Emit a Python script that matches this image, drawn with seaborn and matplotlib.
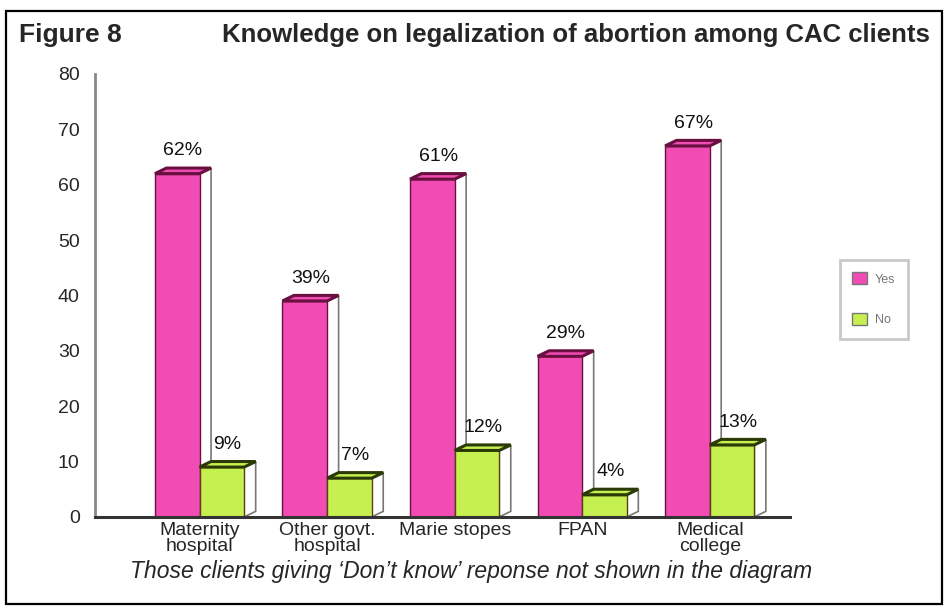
import matplotlib
matplotlib.use("Agg")
import matplotlib.pyplot as plt
from matplotlib.patches import Polygon, Rectangle, Patch
import seaborn as sns
import pandas as pd

categories = ["Maternity\nhospital", "Other govt.\nhospital", "Marie stopes", "FPAN", "Medical\ncollege"]
yes_values = [62, 39, 61, 29, 67]
no_values = [9, 7, 12, 4, 13]
series_names = ["Yes", "No"]
y_ticks = [0, 10, 20, 30, 40, 50, 60, 70, 80]

df = pd.DataFrame({
    "category": categories * 2,
    "value": yes_values + no_values,
    "series": [series_names[0]] * len(categories) + [series_names[1]] * len(categories),
})

sns.set_style("white")
plt.rcParams["font.family"] = ["Liberation Sans", "DejaVu Sans"]

face = {"Yes": "#f04cb4", "No": "#c6f050"}
top_col = {"Yes": "#6a1040", "No": "#2c3a08"}

fig = plt.figure(figsize=(9.47, 6.11), dpi=100)
ax = fig.add_axes([0.1003, 0.154, 0.734, 0.725])

sns.barplot(data=df, x="category", y="value", hue="series", palette=face,
            width=0.7, ax=ax, legend=False, edgecolor="#5a1838", linewidth=1.0,
            saturation=1)

ax.set_xlim(-0.82, 4.63)
ax.set_ylim(0, 80)

# pseudo-3D depth on each bar
dx, dy = 0.09, 1.0
for container, name in zip(ax.containers, series_names):
    for bar, val in zip(container.patches, df[df.series == name].value):
        x, w, h = bar.get_x(), bar.get_width(), bar.get_height()
        bar.set_edgecolor("#6a1040" if name == "Yes" else "#5a4010")
        side = Polygon([(x + w, 0), (x + w + dx, dy), (x + w + dx, h + dy), (x + w, h)],
                       closed=True, facecolor="white", edgecolor="#777777", lw=1.2,
                       zorder=bar.get_zorder() - 0.1, clip_on=False)
        top = Polygon([(x, h), (x + dx, h + dy), (x + w + dx, h + dy), (x + w, h)],
                      closed=True, facecolor=face[name], edgecolor=top_col[name], lw=2.2,
                      zorder=bar.get_zorder() + 0.1, clip_on=False)
        ax.add_patch(side)
        ax.add_patch(top)
        ax.text(x + w / 2 + dx / 2, h + dy + 1.6, f"{val}%", ha="center", va="bottom",
                fontsize=14, color="#111111")

ax.set_xlabel("")
ax.set_ylabel("")
ax.set_yticks(y_ticks)
ax.tick_params(axis="y", labelsize=14, length=6, width=1.5, color="#888888", direction="out", pad=5)
ax.tick_params(axis="x", labelsize=14, length=0, pad=4)
ax.set_xticks([0.5, 1.5, 2.5, 3.5], minor=True)
ax.tick_params(axis="x", which="minor", length=6, width=1.5, color="#555555", direction="out")
for lbl in ax.get_xticklabels():
    lbl.set_linespacing(0.85)

sns.despine(ax=ax, top=True, right=True)
ax.spines["left"].set_color("#888888")
ax.spines["left"].set_linewidth(2)
ax.spines["bottom"].set_color("#333333")
ax.spines["bottom"].set_linewidth(2.2)

# legend box
handles = [Patch(facecolor=face[n], edgecolor="#777777", label=n) for n in series_names]
leg = fig.legend(handles=handles, loc="upper left", bbox_to_anchor=(0.880, 0.585),
                 fontsize=9, frameon=True, fancybox=False, edgecolor="#bbbbbb",
                 handlelength=1.2, handleheight=1.1, labelspacing=2.2, borderpad=1.0,
                 handletextpad=0.6)
leg.get_frame().set_linewidth(2)
for t in leg.get_texts():
    t.set_color("#777777")

# outer frame, title and caption
fig.patches.append(Rectangle((0.006, 0.012), 0.989, 0.97, transform=fig.transFigure,
                             fill=False, edgecolor="black", lw=1.6))
fig.text(0.02, 0.943, "Figure 8", fontsize=19, fontweight="bold", ha="left", va="center")
fig.text(0.982, 0.943, "Knowledge on legalization of abortion among CAC clients",
         fontsize=18.5, fontweight="bold", ha="right", va="center")
fig.text(0.497, 0.064, "Those clients giving \u2018Don\u2019t know\u2019 reponse not shown in the diagram",
         fontsize=16.5, style="italic", ha="center", va="center")

fig.savefig("out.png", dpi=100)
